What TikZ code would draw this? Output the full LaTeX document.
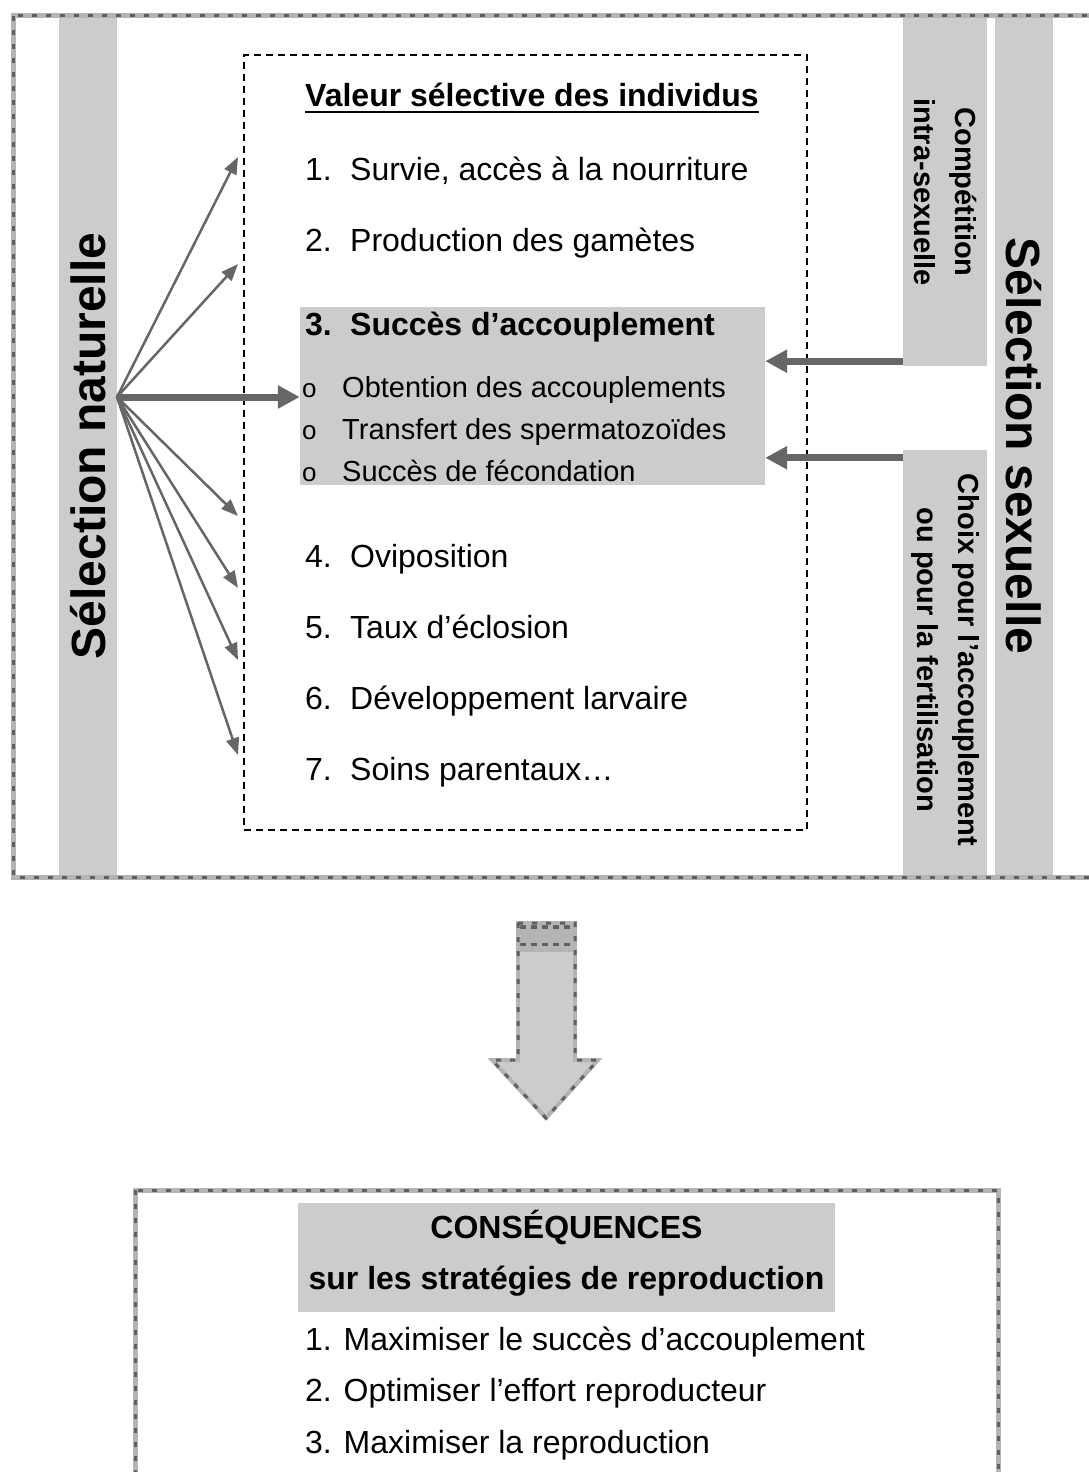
\documentclass[tikz,border=0pt]{standalone}
\usepackage{fontspec}
\setmainfont{Liberation Sans}
\usetikzlibrary{arrows.meta}

\definecolor{bandgris}{HTML}{CCCCCC}
\definecolor{flechegris}{HTML}{666666}
\definecolor{motifclair}{HTML}{B4B4B4}
\definecolor{motiffonce}{HTML}{606060}

\newcommand{\numitem}[1]{\makebox[45pt][l]{#1}}
\newcommand{\puce}{\makebox[40pt][l]{\fontsize{26}{26}\selectfont o}}

\begin{document}
\begin{tikzpicture}[x=1pt, y=-1pt,
	bandeau/.style={fill=bandgris, inner sep=0pt},
	texte/.style={anchor=base west, inner sep=0pt, font=\fontsize{32}{38}\selectfont},
	titre/.style={texte, font=\fontsize{32}{38}\selectfont\bfseries},
	soustexte/.style={texte, font=\fontsize{29}{35}\selectfont},
	grand/.style={inner sep=0pt, font=\fontsize{48}{54}\selectfont\bfseries},
	moyen/.style={inner sep=0pt, align=center, font=\fontsize{29}{41}\selectfont\bfseries},
	cadre/.style={draw, line width=1.8pt, dash pattern=on 7pt off 5pt},
	motif/.style={draw=motifclair, line width=5pt,
		postaction={draw=motiffonce, line width=3pt, dash pattern=on 5pt off 9pt}},
	fleche/.style={draw=flechegris, line width=2.5pt, -{Triangle[length=17pt, width=13pt]}},
	grossefleche/.style={draw=flechegris, line width=7pt, -{Triangle[length=22pt, width=22pt]}}]
	\useasboundingbox (0,0) rectangle (1089,1472);
	\clip (0,0) rectangle (1089,1472);

	\node[bandeau, minimum width=58pt, minimum height=860pt] (natur)  at (88,446) {};
	\node[bandeau, minimum width=58pt, minimum height=860pt] (sexuel) at (1024,446) {};
	\node[bandeau, minimum width=84pt, minimum height=351pt] (compet) at (945,190.5) {};
	\node[bandeau, minimum width=84pt, minimum height=428pt] (choix)  at (945,664) {};

	\node[grand, rotate=90]  (naturtxt)  at (natur)  {Sélection naturelle};
	\node[grand, rotate=-90] (sexueltxt) at (sexuel) {Sélection sexuelle};
	\node[moyen, rotate=-90] (compettxt) at (compet.center |- 0,192) {Compétition\\intra-sexuelle};
	\node[moyen, rotate=-90] (choixtxt)  at (choix.center |- 0,660)  {Choix pour l’accouplement\\ou pour la fertilisation};

	\draw[motif] (13,16) rectangle (1110,877);

	\node[cadre, minimum width=563pt, minimum height=775pt] (valeur) at (525.5,442.5) {};
	\node[titre] (titretxt) at (305,106) {Valeur sélective des individus};
	\draw[line width=2.5pt] ([yshift=-6pt]titretxt.base west) -- ([yshift=-6pt]titretxt.base east);

	\node[texte] (item1) at (305,180) {\numitem{1.}Survie, accès à la nourriture};
	\node[texte] (item2) at (305,251) {\numitem{2.}Production des gamètes};

	\node[bandeau, minimum width=465pt, minimum height=178pt] (succes) at (532.5,396) {};
	\node[titre] (item3) at (305,335) {\numitem{3.}Succès d’accouplement};
	\node[soustexte] (sous1) at (302,397) {\puce Obtention des accouplements};
	\node[soustexte] (sous2) at (302,439) {\puce Transfert des spermatozoïdes};
	\node[soustexte] (sous3) at (302,481) {\puce Succès de fécondation};

	\node[texte] (item4) at (305,567) {\numitem{4.}Oviposition};
	\node[texte] (item5) at (305,638) {\numitem{5.}Taux d’éclosion};
	\node[texte] (item6) at (305,709) {\numitem{6.}Développement larvaire};
	\node[texte] (item7) at (305,780) {\numitem{7.}Soins parentaux…};

	\coordinate (src) at (117,397);
	\coordinate (f1) at (238,157);
	\coordinate (f2) at (238,264);
	\coordinate (f3) at (238,516);
	\coordinate (f4) at (238,588);
	\coordinate (f5) at (238,660);
	\coordinate (f6) at (238,755);
	\draw[fleche] (src) -- (f1);
	\draw[fleche] (src) -- (f2);
	\draw[fleche] (src) -- (f3);
	\draw[fleche] (src) -- (f4);
	\draw[fleche] (src) -- (f5);
	\draw[fleche] (src) -- (f6);
	\draw[grossefleche] (src) -- (succes.west |- src);

	\coordinate (c1) at ([yshift=5pt]compet.south west);
	\coordinate (c2) at ([yshift=-8pt]choix.north west);
	\draw[grossefleche] (c1) -- (succes.east |- c1);
	\draw[grossefleche] (c2) -- (succes.east |- c2);

	\fill[bandgris] (518,923) -- (575,923) -- (575,1060) -- (600,1060) -- (546,1120) -- (490,1060) -- (518,1060) -- cycle;
	\fill[motifclair] (518,923) rectangle (575,952);
	\draw[motiffonce, line width=4pt, dash pattern=on 6pt off 5pt] (520,927) -- (575,927);
	\draw[motiffonce, line width=3pt, dash pattern=on 6pt off 5pt] (520,944) -- (575,944);
	\draw[motif, line width=4pt] (518,923) -- (518,1060) -- (492,1060) -- (546,1118) -- (598,1060) -- (575,1060) -- (575,923) -- cycle;

	\draw[motif] (135,1190) rectangle (998,1500);
	\node[bandeau, minimum width=537pt, minimum height=109pt] (entete) at (566.5,1257.5) {};
	\node[titre, anchor=base] (consq) at (566.5,1238) {CONSÉQUENCES};
	\node[titre, anchor=base] (strat) at (566.5,1289) {sur les stratégies de reproduction};

	\node[texte] (csq1) at (305,1350) {1. Maximiser le succès d’accouplement};
	\node[texte] (csq2) at (305,1401) {2. Optimiser l’effort reproducteur};
	\node[texte] (csq3) at (305,1453) {3. Maximiser la reproduction};
\end{tikzpicture}
\end{document}
